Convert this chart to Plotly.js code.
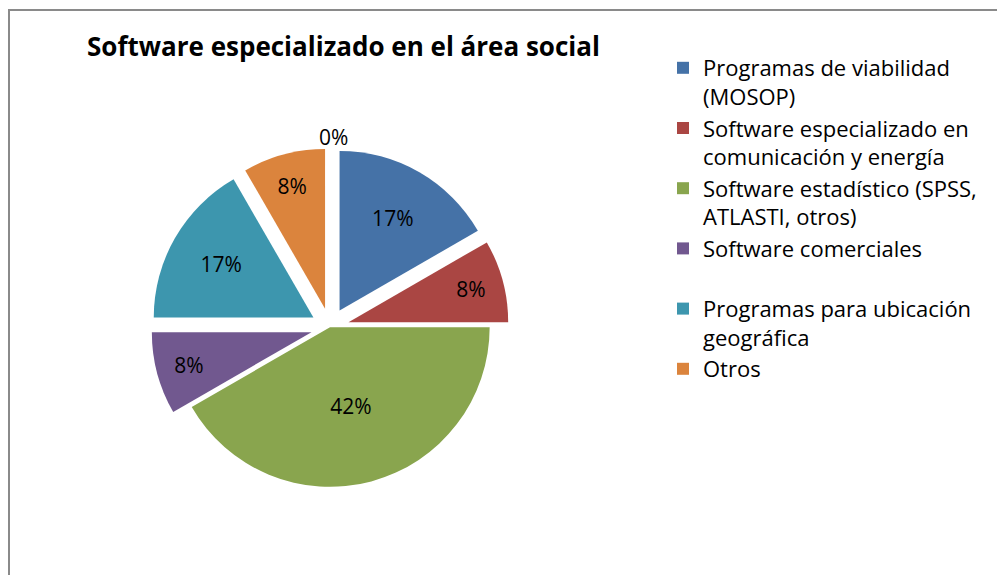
<!DOCTYPE html>
<html>
<head>
<meta charset="utf-8">
<script src="https://cdn.plot.ly/plotly-3.0.1.min.js"></script>
<style>
html,body{margin:0;padding:0;background:#fff;}
#frame{position:absolute;left:8px;top:9px;width:1200px;height:700px;border:2px solid #8a8a8a;box-sizing:border-box;}
#chart{position:absolute;left:0;top:0;width:997px;height:575px;}
</style>
</head>
<body>
<div id="frame"></div>
<div id="chart"></div>
<script>
const categories = [
  "Programas de viabilidad<br>(MOSOP)",
  "Software especializado en<br>comunicación y energía",
  "Software estadístico (SPSS,<br>ATLASTI, otros)",
  "Software comerciales<br> ",
  "Programas para ubicación<br>geográfica",
  "Otros"
];
const counts = [2, 1, 5, 1, 2, 1];
const colors = ["#4572A7", "#AA4643", "#89A54E", "#71588F", "#3D96AE", "#DB843D"];
const pulls = [0.12, 0.12, 0, 0.12, 0.12, 0.12];
const zeroLabel = "0%";

const trace = {
  type: "pie",
  labels: categories,
  values: counts,
  sort: false,
  direction: "clockwise",
  rotation: 0,
  pull: pulls,
  marker: {colors: colors, line: {color: "#ffffff", width: 0}},
  textinfo: "percent",
  texttemplate: "%{percent:.0%}",
  textposition: "inside",
  insidetextorientation: "horizontal",
  textfont: {family: "Open Sans, sans-serif", size: 21, color: "#000000"},
  hoverinfo: "label+percent",
  domain: {x: [0.151, 0.511], y: [0.12, 0.742]}
};

const layout = {
  width: 997,
  height: 575,
  margin: {l: 0, r: 0, t: 0, b: 0},
  paper_bgcolor: "rgba(0,0,0,0)",
  plot_bgcolor: "rgba(0,0,0,0)",
  font: {family: "Open Sans, sans-serif", color: "#000000"},
  title: {
    text: "<b>Software especializado en el área social</b>",
    font: {family: "Open Sans, sans-serif", size: 26, color: "#000000"},
    xref: "paper", yref: "paper",
    x: 87/997, xanchor: "left",
    y: 1 - 47/575, yanchor: "middle"
  },
  showlegend: true,
  legend: {
    x: 663/997, xanchor: "left",
    y: 1 - 47/575, yanchor: "top",
    valign: "top",
    font: {family: "Open Sans, sans-serif", size: 22, color: "#000000"},
    bgcolor: "rgba(0,0,0,0)",
    itemclick: false
  },
  annotations: [{
    text: zeroLabel,
    xref: "paper", yref: "paper",
    x: 333/997, y: 1 - 121/575,
    showarrow: false,
    font: {family: "Open Sans, sans-serif", size: 21, color: "#000000"}
  }]
};

Plotly.newPlot("chart", [trace], layout, {displayModeBar: false, staticPlot: true});
</script>
</body>
</html>
